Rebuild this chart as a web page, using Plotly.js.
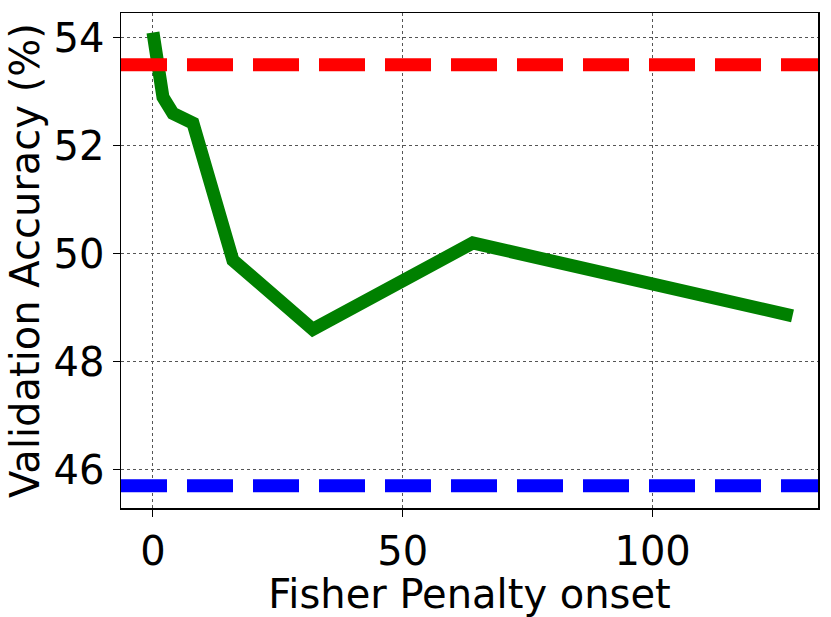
<!DOCTYPE html>
<html>
<head>
<meta charset="utf-8">
<script src="https://cdn.plot.ly/plotly-3.0.1.min.js"></script>
<style>
  html, body { margin: 0; padding: 0; background: #fff; }
  #chart { width: 831px; height: 617px; }
</style>
</head>
<body>
<div id="chart"></div>
<script>
// data
var onset = [0, 2, 4, 8, 16, 32, 64, 128];
var accuracy = [54.1, 52.9, 52.6, 52.42, 49.88, 48.6, 50.2, 48.85];
var upperBaseline = 53.5;
var lowerBaseline = 45.7;
var xRange = [-6.4, 133.1];

var fontFamily = 'DejaVu Sans, sans-serif';

var green = {
    x: onset,
    y: accuracy,
    type: 'scatter',
    mode: 'lines',
    line: { color: 'green', width: 13 },
    showlegend: false
};

var red = {
    x: xRange,
    y: [upperBaseline, upperBaseline],
    type: 'scatter',
    mode: 'lines',
    line: { color: 'red', width: 13, dash: '46px,20px' },
    showlegend: false
};

var blue = {
    x: xRange,
    y: [lowerBaseline, lowerBaseline],
    type: 'scatter',
    mode: 'lines',
    line: { color: 'blue', width: 13, dash: '46px,20px' },
    showlegend: false
};

var layout = {
    width: 831,
    height: 617,
    margin: { l: 121, r: 13, t: 13, b: 109 },
    paper_bgcolor: 'white',
    plot_bgcolor: 'white',
    font: { family: fontFamily, color: 'black', size: 40 },
    xaxis: {
        range: xRange,
        tickvals: [0, 50, 100],
        ticks: 'outside',
        ticklen: 7,
        tickcolor: 'black',
        showline: true,
        linecolor: 'black',
        linewidth: 1.5,
        mirror: true,
        showgrid: true,
        gridcolor: '#555',
        gridwidth: 1,
        griddash: 'dot',
        zeroline: false,
        tickfont: { size: 40 },
        title: { text: 'Fisher Penalty onset', font: { size: 40 }, standoff: 4 }
    },
    yaxis: {
        range: [45.29, 54.46],
        tickvals: [46, 48, 50, 52, 54],
        ticks: 'outside',
        ticklen: 7,
        tickcolor: 'black',
        showline: true,
        linecolor: 'black',
        linewidth: 1.5,
        mirror: true,
        showgrid: true,
        gridcolor: '#555',
        gridwidth: 1,
        griddash: 'dot',
        zeroline: false,
        tickfont: { size: 40 },
        title: { text: 'Validation Accuracy (%)', font: { size: 40 }, standoff: 1 }
    }
};

Plotly.newPlot('chart', [green, red, blue], layout, { displayModeBar: false, staticPlot: true });
</script>
</body>
</html>
